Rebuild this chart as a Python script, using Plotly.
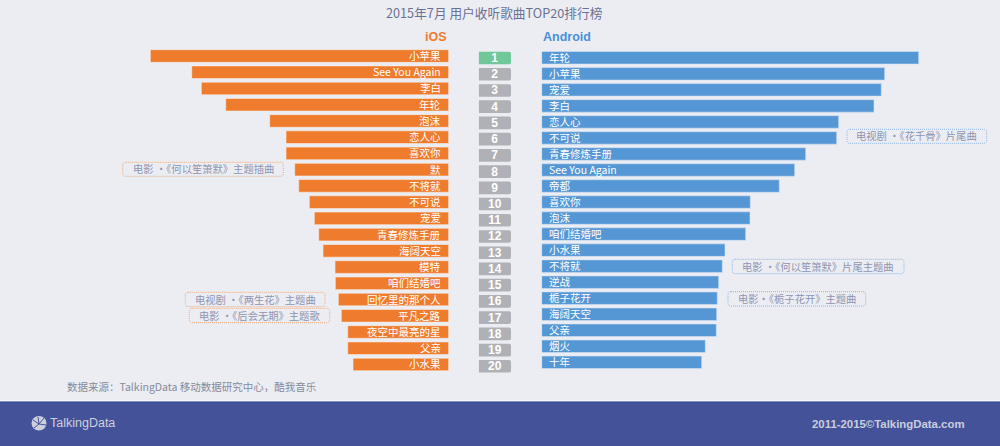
import plotly.graph_objects as go

ranks = list(range(1, 21))

ios_songs = ["小苹果", "See You Again", "李白", "年轮", "泡沫", "恋人心", "喜欢你", "默", "不将就", "不可说",
             "宠爱", "青春修炼手册", "海阔天空", "模特", "咱们结婚吧", "回忆里的那个人", "平凡之路", "夜空中最亮的星", "父亲", "小水果"]
ios_values = [298.4, 257, 247.4, 223, 179, 162.7, 162.7, 154, 150, 139.4,
              134.4, 130, 125.7, 113.7, 113.4, 110.4, 107.4, 101, 101, 95.7]

android_songs = ["年轮", "小苹果", "宠爱", "李白", "恋人心", "不可说", "青春修炼手册", "See You Again", "帝都", "喜欢你",
                 "泡沫", "咱们结婚吧", "小水果", "不将就", "逆战", "栀子花开", "海阔天空", "父亲", "烟火", "十年"]
android_values = [377, 343, 339.6, 332.3, 297, 295, 264, 253, 237.6, 208.6,
                  208.3, 204, 183.3, 180.6, 177, 175.6, 175, 174.6, 163.6, 160]

BG = "#ebedf3"
ORANGE = "#ef7b2d"
BLUE = "#5597d5"
FONT = "Noto Sans CJK SC"
W, H = 1000, 446


def px(x):
    return x / W


def py(y):
    return 1 - y / H


def label(text, x, y, size, color, anchor="left", bold=False, family=FONT):
    if bold:
        text = "<b>" + text + "</b>"
    fig.add_annotation(text=text, x=px(x), y=py(y), xref="paper", yref="paper", showarrow=False,
                       xanchor=anchor, yanchor="middle", font=dict(size=size, color=color, family=family))


def callout(text, x0, x1, y0, y1, color):
    r = 3
    path = (f"M {x0 + r} {H - y0} L {x1 - r} {H - y0} Q {x1} {H - y0} {x1} {H - y0 - r} "
            f"L {x1} {H - y1 + r} Q {x1} {H - y1} {x1 - r} {H - y1} "
            f"L {x0 + r} {H - y1} Q {x0} {H - y1} {x0} {H - y1 + r} "
            f"L {x0} {H - y0 - r} Q {x0} {H - y0} {x0 + r} {H - y0} Z")
    fig.add_shape(type="path", path=path, xref="x4", yref="y4", line=dict(color=color, width=1, dash="1px,1px"))
    label(text, (x0 + x1) / 2, (y0 + y1) / 2 - 0.5, 10.3, "#8f95b0", anchor="center")


fig = go.Figure()

fig.add_bar(y=ranks, x=ios_values, orientation="h", marker_color=ORANGE, marker_line=dict(color="#f7f0ea", width=0.6),
            xaxis="x", yaxis="y", hoverinfo="skip")
fig.add_bar(y=ranks, x=android_values, orientation="h", marker_color=BLUE, marker_line=dict(color="#d3e2f2", width=0.6),
            xaxis="x2", yaxis="y2", hoverinfo="skip")
rank_colors = ["#6fc79a"] + ["#b0b1b6"] * 19
fig.add_bar(y=ranks, x=[1] * 20, orientation="h", marker=dict(color=rank_colors, cornerradius=2, line_width=0),
            text=[f"<b>{r}</b>" for r in ranks], textposition="inside", insidetextanchor="middle", textangle=0,
            constraintext="none", textfont=dict(color="white", size=12, family="Liberation Sans"),
            xaxis="x3", yaxis="y3", hoverinfo="skip")

# invisible pixel-sized axis pair for the dotted callout boxes
fig.add_scatter(x=[0, W], y=[0, H], mode="none", xaxis="x4", yaxis="y4", hoverinfo="skip")

for r, song in zip(ranks, ios_songs):
    fig.add_annotation(text=song, x=0, y=r, xref="x", yref="y", xanchor="right", xshift=-5.5, yshift=0.5, showarrow=False,
                       font=dict(size=10.5, color="white", family=FONT))
for r, song in zip(ranks, android_songs):
    fig.add_annotation(text=song, x=0, y=r, xref="x2", yref="y2", xanchor="left", xshift=5, yshift=0.5, showarrow=False,
                       font=dict(size=10.5, color="white", family=FONT))

hidden = dict(visible=False, fixedrange=True)
fig.update_layout(
    width=W, height=H, margin=dict(l=0, r=0, t=0, b=0), paper_bgcolor=BG, plot_bgcolor="rgba(0,0,0,0)",
    showlegend=False, bargap=0.22,
    xaxis=dict(hidden, domain=[0, px(448.7)], range=[448.7, 0], anchor="y"),
    yaxis=dict(hidden, domain=[py(372.6), py(47.9)], range=[20.5, 0.5], anchor="x"),
    xaxis2=dict(hidden, domain=[px(541.7), 1], range=[0, 458.3], anchor="y2"),
    yaxis2=dict(hidden, domain=[py(370.3), py(49.8)], range=[20.5, 0.5], anchor="x2"),
    xaxis3=dict(hidden, domain=[px(478.7), px(511)], range=[0, 1], anchor="y3"),
    yaxis3=dict(hidden, domain=[py(374.4), py(49.9)], range=[20.5, 0.5], anchor="x3"),
    xaxis4=dict(hidden, domain=[0, 1], range=[0, W], anchor="y4"),
    yaxis4=dict(hidden, domain=[0, 1], range=[0, H], anchor="x4"),
)

# footer band
fig.add_shape(type="rect", x0=0, x1=W, y0=0, y1=H - 402, xref="x4", yref="y4", fillcolor="#445299", line_width=0, layer="below")
fig.add_shape(type="rect", x0=0, x1=W, y0=H - 402.5, y1=H - 401.3, xref="x4", yref="y4", fillcolor="#34478f", line_width=0, layer="below")
fig.add_shape(type="rect", x0=0, x1=W, y0=H - 401.3, y1=H - 400.3, xref="x4", yref="y4", fillcolor="#f8f9fb", line_width=0, layer="below")

# logo: disc with a few cuts
fig.add_shape(type="circle", x0=31.5, x1=46.5, y0=H - 430.5, y1=H - 416, xref="x4", yref="y4", fillcolor="#cdd0dc", line_width=0)
for x_end, y_end in [(33, 420), (38, 417), (44, 418), (46, 425), (34, 428)]:
    fig.add_shape(type="line", x0=39, y0=H - 424, x1=x_end, y1=H - y_end, xref="x4", yref="y4", line=dict(color="#445299", width=1))

label("2015年7月 用户收听歌曲TOP20排行榜", 494, 13, 12.7, "#6b7194", anchor="center")
label("iOS", 449, 37, 12.5, ORANGE, anchor="right", bold=True, family="Liberation Sans")
label("Android", 540.5, 37, 12.5, "#4a90d9", bold=True, family="Liberation Sans")
label("数据来源：TalkingData 移动数据研究中心，酷我音乐", 65, 386, 10.5, "#868b9b")
label("TalkingData", 47.5, 423, 12.5, "#cdd0dc", family="Liberation Sans")
label("2011-2015©TalkingData.com", 967, 424, 11.4, "#c9cede", anchor="right", bold=True, family="Liberation Sans")

callout("电影 ·《何以笙箫默》主题插曲", 122.7, 283.3, 162.3, 176.3, "#f0a878")
callout("电视剧 ·《两生花》主题曲", 185.3, 325, 292.3, 306.7, "#f0a878")
callout("电影 ·《后会无期》主题歌", 189.3, 329.7, 308.3, 322.7, "#f0a878")
callout("电视剧 ·《花千骨》片尾曲", 847, 986.7, 129.3, 143.3, "#8db5e0")
callout("电影 ·《何以笙箫默》片尾主题曲", 732.3, 904, 259.3, 273.7, "#8db5e0")
callout("电影·《栀子花开》主题曲", 728, 865.7, 291.7, 306, "#8db5e0")

fig.write_html("out.html", config=dict(displayModeBar=False), post_script="document.body.style.margin='0';")
